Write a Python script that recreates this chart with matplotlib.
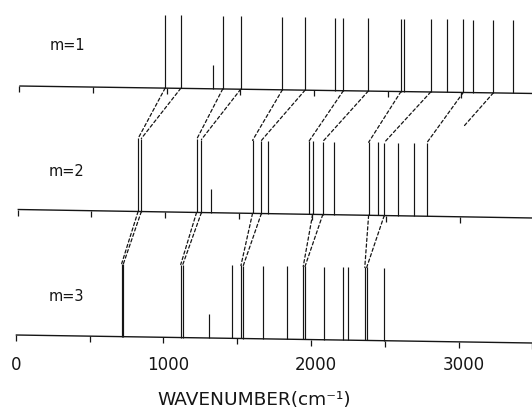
import matplotlib.pyplot as plt
import matplotlib.transforms as mtransforms
from matplotlib.patches import ConnectionPatch

# band positions (cm-1) for each m
m1_bands = [990, 1096, 1381, 1503, 1786, 1940, 2143, 2200, 2369, 2591,
            2614, 2793, 2906, 3014, 3082, 3218, 3354]
m1_weak = [1314]
m2_bands = [818, 840, 1215, 1248, 1595, 1655, 1698, 1978, 2003, 2072,
            2146, 2383, 2447, 2489, 2580, 2688, 2776]
m2_weak = [1312]
m3_bands = [718, 730, 1118, 1132, 1463, 1526, 1542, 1677, 1840, 1948,
            1960, 2089, 2219, 2253, 2365, 2378, 2495]
m3_weak = [1310]

# correlation lines (upper band -> lower band)
links_12 = [(990, 818), (1096, 840), (1381, 1215), (1503, 1248),
            (1786, 1595), (1940, 1655), (2200, 1978), (2369, 2072),
            (2591, 2383), (2793, 2489), (3014, 2776)]
links_23 = [(818, 718), (840, 730), (1215, 1118), (1248, 1132),
            (1595, 1526), (1655, 1542), (2003, 1948), (2072, 1960),
            (2383, 2365), (2489, 2378)]
# one unfinished correlation line in the upper gap
open_link = (3218, 3026, 90)

tick_values = [0, 500, 1000, 1500, 2000, 2500, 3000, 3500]
label_values = [0, 1000, 2000, 3000]
label_texts = ['0', '1000', '2000', '3000']

W, H = 532, 411
INK = '#151515'
TALL, SHORT = 73, 24

fig = plt.figure(figsize=(W / 100, H / 100), dpi=100)

# each scanned panel: (left px of 0, px per cm-1, baseline y at 0, baseline y at 3500)
panels = [(19.3, 0.1473, 86.0, 93.5),
          (17.6, 0.1473, 209.5, 218.0),
          (15.7, 0.1476, 335.0, 343.0)]
bands = [m1_bands, m2_bands, m3_bands]
weak = [m1_weak, m2_weak, m3_weak]
names = ['m=1', 'm=2', 'm=3']
name_pos = [(67, 45), (67, 172), (66, 296)]

axes = []
bases = []
for (x0, s, yl, yr), bb, ww in zip(panels, bands, weak):
    ax = fig.add_axes([0, 0, 1, 1])
    ax.set_xlim(-x0 / s, (W - x0) / s)
    ax.set_ylim(H, 0)
    ax.axis('off')
    ax.patch.set_alpha(0)

    def base(v, yl=yl, yr=yr):
        return yl + (yr - yl) * v / 3500.0

    xr = (W - x0) / s
    ax.plot([0, xr], [base(0), base(xr)], color=INK, lw=1.0,
            solid_capstyle='butt')
    ax.vlines(tick_values, [base(t) for t in tick_values],
              [base(t) + 6 for t in tick_values], color=INK, lw=0.9)
    ax.vlines(bb, [base(b) - TALL for b in bb], [base(b) for b in bb],
              color=INK, lw=0.85)
    ax.vlines(ww, [base(b) - SHORT for b in ww], [base(b) for b in ww],
              color=INK, lw=0.85)
    axes.append(ax)
    bases.append(base)

for name, (px, py) in zip(names, name_pos):
    fig.text(px / W, 1 - py / H, name, ha='center', va='center',
             fontsize=10.5, color=INK, family='DejaVu Sans')


def link(ax_a, base_a, va, ax_b, base_b, vb, rise=TALL):
    con = ConnectionPatch(xyA=(va, base_a(va)), coordsA=ax_a.transData,
                          xyB=(vb, base_b(vb) - rise), coordsB=ax_b.transData,
                          linestyle=(0, (2.6, 2.0)), lw=0.9, color=INK)
    fig.add_artist(con)


for va, vb in links_12:
    link(axes[0], bases[0], va, axes[1], bases[1], vb)
for va, vb in links_23:
    link(axes[1], bases[1], va, axes[2], bases[2], vb)
link(axes[0], bases[0], open_link[0], axes[1], bases[1], open_link[1],
     rise=open_link[2])

ax3 = axes[2]
for v, t in zip(label_values, label_texts):
    dx = 0 if v == 0 else 5
    tr = mtransforms.offset_copy(ax3.transData, fig, x=dx, y=0, units='dots')
    ax3.text(v, 365, t, transform=tr, ha='center', va='center',
             fontsize=12, color=INK, family='DejaVu Sans')

fig.text(254.5 / W, 1 - 400 / H, 'WAVENUMBER(cm⁻¹)', ha='center',
         va='center', fontsize=13.3, color=INK, family='DejaVu Sans')

fig.savefig('out.png', dpi=100, facecolor='white')
